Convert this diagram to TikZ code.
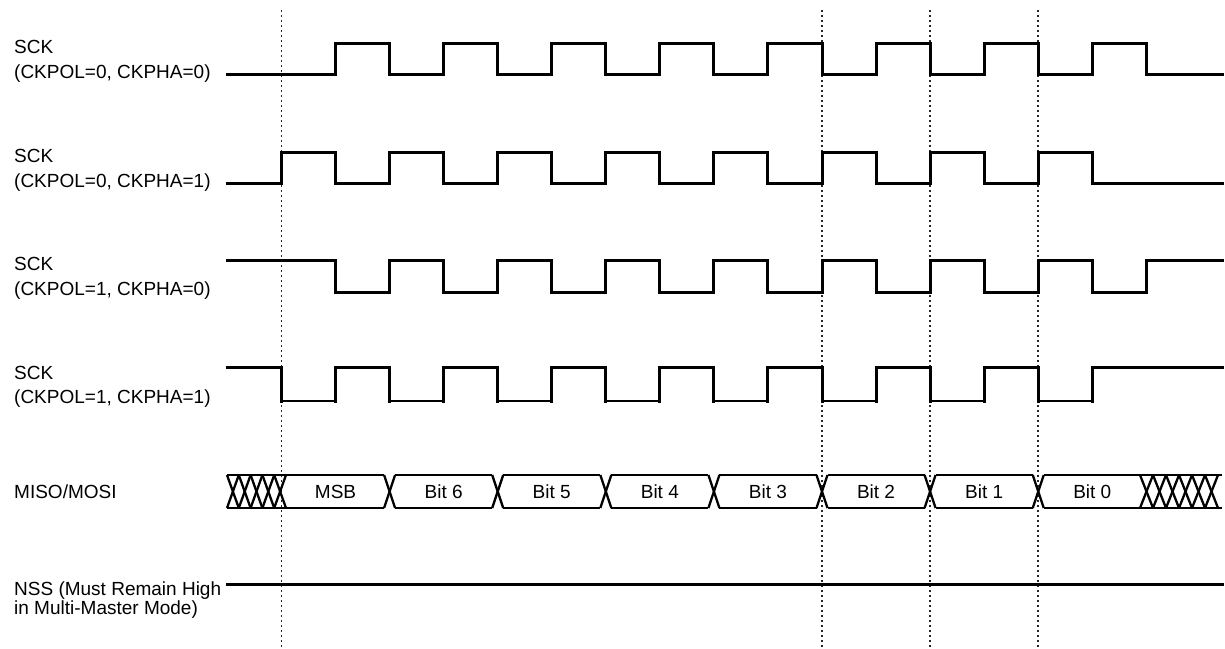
\documentclass[tikz,border=0pt]{standalone}
\usepackage{fontspec}
\setmainfont{Liberation Sans}
\begin{document}
\pgfmathdeclarefunction{E}{1}{\pgfmathparse{281.5+(#1)*54.05}}
\begin{tikzpicture}[x=1pt,y=-1pt,
  sig/.style={line width=3pt,line join=miter,line cap=rect},
  thinsig/.style={line width=1.5pt},
  bus/.style={line width=2.3pt},
  guide/.style={line width=1.6pt,black!85,dash pattern=on 2pt off 3pt},
  lbl/.style={anchor=base west,inner sep=0pt,font=\fontsize{19}{23}\selectfont},
  dat/.style={anchor=base,inner sep=0pt,font=\fontsize{19}{23}\selectfont}]
\useasboundingbox (0,0) rectangle (1225,648);
\def\hw{5.5}
% guide lines
\foreach \gx in {281.5,822,930,1038.2}
  \draw[guide] (\gx,10) -- (\gx,648);
% labels
\node[lbl] (l1a) at (14,53) {SCK};
\node[lbl] (l1b) at (14,78) {(CKPOL=0, CKPHA=0)};
\node[lbl] (l2a) at (14,162) {SCK};
\node[lbl] (l2b) at (14,187) {(CKPOL=0, CKPHA=1)};
\node[lbl] (l3a) at (14,270) {SCK};
\node[lbl] (l3b) at (14,295) {(CKPOL=1, CKPHA=0)};
\node[lbl] (l4a) at (14,379) {SCK};
\node[lbl] (l4b) at (14,403) {(CKPOL=1, CKPHA=1)};
\node[lbl] (l5) at (14,498) {MISO/MOSI};
\node[lbl] (l6a) at (14,595) {NSS (Must Remain High};
\node[lbl] (l6b) at (14,614) {in Multi-Master Mode)};
% row 1
\draw[sig] (227,74) -- ({E(1)},74)
  foreach \k in {0,...,7} { |- ({E(2+2*\k)},43) |- ({E(3+2*\k)},74) } -- (1222,74);
% row 2
\draw[sig] (227,183) -- ({E(0)},183)
  foreach \k in {0,...,7} { |- ({E(1+2*\k)},152) |- ({E(2+2*\k)},183) } -- (1222,183);
% row 3
\draw[sig] (227,260) -- ({E(1)},260)
  foreach \k in {0,...,7} { |- ({E(2+2*\k)},292) |- ({E(3+2*\k)},260) } -- (1222,260);
% row 4
\foreach \k in {0,...,7}
  \draw[thinsig] ({E(2*\k)},401) -- ({E(1+2*\k)},401);
\draw[sig] (227,367) -- ({E(0)},367) -- ({E(0)},401);
\foreach \k in {0,...,6}
  \draw[sig] ({E(1+2*\k)},401) |- ({E(2+2*\k)},367) -- ({E(2+2*\k)},401);
\draw[sig] ({E(15)},401) |- (1222,367);
% data bus
\draw[bus] (227,475) -- ({E(2)-\hw},475);
\draw[bus] (227,508) -- ({E(2)-\hw},508);
\foreach \k in {0,...,5} {
  \draw[bus] ({E(2+2*\k)+\hw},475) -- ({E(4+2*\k)-\hw},475);
  \draw[bus] ({E(2+2*\k)+\hw},508) -- ({E(4+2*\k)-\hw},508);
}
\draw[bus] ({E(14)+\hw},475) -- (1222,475);
\draw[bus] ({E(14)+\hw},508) -- (1222,508);
\foreach \k in {0,...,6} {
  \draw[bus] ({E(2+2*\k)-\hw},475) -- ({E(2+2*\k)+\hw},508);
  \draw[bus] ({E(2+2*\k)+\hw},475) -- ({E(2+2*\k)-\hw},508);
}
% hatch
\foreach \i in {0,...,4} {
  \draw[bus] ({227+\i*11.8},475) -- ({227+(\i+1)*11.8},508);
  \draw[bus] ({227+(\i+1)*11.8},475) -- ({227+\i*11.8},508);
}
\foreach \i in {0,...,5} {
  \draw[bus] ({1140+\i*13},475) -- ({1140+(\i+1)*13},508);
  \draw[bus] ({1140+(\i+1)*13},475) -- ({1140+\i*13},508);
}
\foreach \t [count=\c from 0] in {MSB,Bit 6,Bit 5,Bit 4,Bit 3,Bit 2,Bit 1,Bit 0}
  \node[dat] (d\c) at ({E(1+2*\c)},498) {\t};
% NSS
\draw[sig] (227,584) -- (1222,584);
\end{tikzpicture}
\end{document}
